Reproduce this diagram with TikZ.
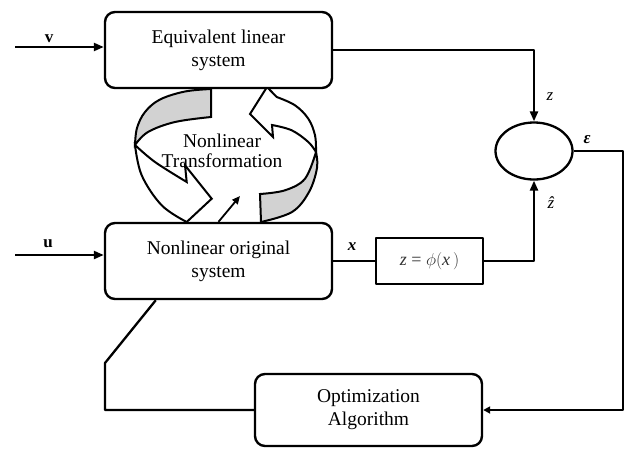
\documentclass[tikz,border=0pt]{standalone}
\usepackage{fontspec}
\setmainfont{Liberation Serif}
\usetikzlibrary{arrows.meta,shapes.geometric}
\begin{document}
\begin{tikzpicture}[x=1pt,y=-1pt,line join=round,
  box/.style={draw,line width=2.4pt,rounded corners=10pt,fill=white,
    minimum width=227pt,minimum height=76pt,align=center,inner sep=0pt,
    font=\fontsize{19.5}{23}\selectfont},
  conn/.style={line width=2.3pt},
  bigtip/.style={-{Triangle[length=10pt,width=8pt]}},
  smalltip/.style={-{Triangle[length=7pt,width=7pt]}},
  lab/.style={inner sep=0pt,font=\fontsize{17}{19}\selectfont},
  rib/.style={line width=2pt,line join=miter},
  band/.style={rib,fill=gray!35},
  face/.style={rib,fill=white}]
\useasboundingbox (0,0) rectangle (628,450);

% circular transformation arrows
\filldraw[band] plot[smooth,tension=0.6] coordinates {(211,89) (185,91.5) (160,99.5) (145,112) (137,128) (135,145)}
  -- plot[smooth,tension=0.6] coordinates {(135,145) (148,132) (175,122) (211,117)} -- cycle;
\filldraw[face] plot[smooth,tension=0.6] coordinates {(135,145) (141.7,175.3) (161.7,205.3) (186.7,222)}
  -- (211.7,198.7) -- (185,165.3) -- (186.7,182)
  -- plot[smooth,tension=0.6] coordinates {(186.7,182) (155,162) (135,145)} -- cycle;
\filldraw[band] (260,194) -- (261,222)
  -- plot[smooth,tension=0.6] coordinates {(261,222) (292,212) (309,192) (317,168) (316,152)}
  -- plot[smooth,tension=0.6] coordinates {(316,152) (305,178.7) (285,190.3) (260,194)} -- cycle;
\filldraw[face] plot[smooth,tension=0.6] coordinates {(316,152) (315,135.3) (308.3,118.7) (295,105.3) (276.7,97)}
  -- (267,87) -- (250,114) -- (273,137) -- (272,125)
  -- plot[smooth,tension=0.6] coordinates {(272,125) (291.7,130.3) (308.3,142) (316,152)} -- cycle;

% boxes
\node[box] (eq) at (218.5,50) {Equivalent linear\\system};
\node[box] (nl) at (218.5,261) {Nonlinear original\\system};
\node[box,minimum height=72pt] (opt) at (368.5,410) {Optimization\\Algorithm};
\node[draw,line width=2.4pt,fill=white,minimum width=107pt,minimum height=46pt,inner sep=0pt,
  text=black!80,font=\fontsize{18}{20}\selectfont] (phi) at (429.5,261)
  {\textit{z} = $\phi\bigl($\textit{x}$\,\bigr)$};
\node[draw,ellipse,line width=2.3pt,minimum width=77pt,minimum height=57pt] (sum) at (534,151) {};

% small arrow from original system
\coordinate (sa) at (240,196);
\draw[line width=1.8pt,-{Triangle[length=8pt,width=7pt]}] (nl.north) -- (sa);

\node[align=center,inner sep=0pt,font=\fontsize{19.5}{20}\selectfont] (nt) at (222,151)
  {Nonlinear\\Transformation};

% inputs
\coordinate (vs) at (15,47);
\coordinate (us) at (15,255);
\draw[conn,bigtip] (vs) -- (vs -| eq.west);
\draw[conn,bigtip] (us) -- (us -| nl.west);
\node[lab] (vl) at (49,39) {\textbf{v}};
\node[lab] (ul) at (48,243.5) {\textbf{u}};

% signal connectors
\draw[conn,bigtip] (eq.east) -| (sum.north);
\draw[conn] (nl.east) -- (phi.west);
\draw[conn,bigtip] (phi.east) -| (sum.south);
\coordinate (rc) at (623,151);
\draw[conn,smalltip] (sum.east) -- (rc) |- (opt.east);
\coordinate (f1) at (105,410);
\coordinate (f2) at (105,363);
\draw[conn] (opt.west) -- (f1) -- (f2) -- ([xshift=52pt]nl.south west);

% labels
\node[lab] (zl) at (550,97) {\textit{z}};
\node[lab] (el) at (587,140) {\textbf{\textit{ε}}};
\node[lab] (zh) at (551,203) {\textit{\^{z}}};
\node[lab] (xl) at (352,247) {\textbf{\textit{x}}};
\end{tikzpicture}
\end{document}
